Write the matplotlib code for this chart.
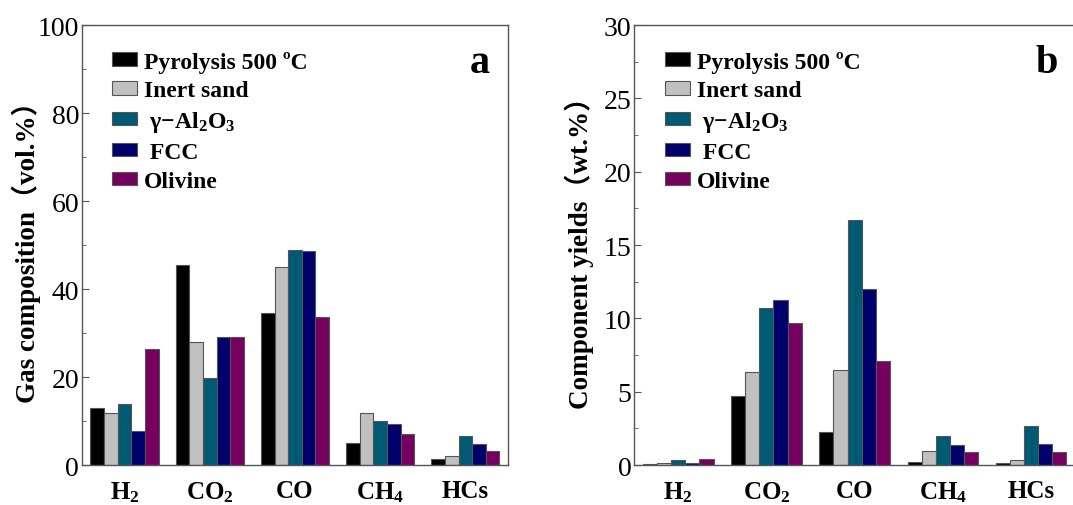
import matplotlib
matplotlib.use('Agg')
import matplotlib.pyplot as plt
from matplotlib.transforms import ScaledTranslation
import numpy as np

plt.rcParams['font.family'] = ['Liberation Serif', 'Noto Sans CJK SC']
plt.rcParams['mathtext.fontset'] = 'custom'
plt.rcParams['mathtext.rm'] = 'Liberation Serif:bold'
plt.rcParams['mathtext.it'] = 'Liberation Serif:italic:bold'
plt.rcParams['mathtext.bf'] = 'Liberation Serif:bold'

# ── data ──────────────────────────────────────────────────────────────────────
gases = ['H$_2$', 'CO$_2$', 'CO', 'CH$_4$', 'HCs']
series = ['Pyrolysis 500 ºC', 'Inert sand', ' γ−Al$_2$O$_3$', ' FCC', 'Olivine']
colors = ['#000000', '#C0C0C0', '#005A74', '#00006C', '#760060']

# gas composition, vol.%
comp_pyro = [13.0, 45.5, 34.5, 5.1, 1.4]
comp_sand = [11.8, 27.9, 45.0, 11.8, 2.1]
comp_al2o3 = [13.9, 19.8, 48.9, 10.1, 6.5]
comp_fcc = [7.7, 29.0, 48.6, 9.3, 4.7]
comp_olivine = [26.4, 29.2, 33.6, 7.0, 3.3]

# component yields, wt.%
yld_pyro = [0.07, 4.69, 2.24, 0.20, 0.14]
yld_sand = [0.16, 6.35, 6.50, 0.98, 0.36]
yld_al2o3 = [0.34, 10.7, 16.7, 2.00, 2.68]
yld_fcc = [0.16, 11.22, 11.97, 1.34, 1.41]
yld_olivine = [0.39, 9.68, 7.10, 0.86, 0.88]


def draw_panel(fig, ax, data, ymax, major, ylabel, tag, lpad):
    x = np.arange(1, len(gases) + 1)
    w = 0.16
    for i, (vals, lab, c) in enumerate(zip(data, series, colors)):
        ax.bar(x + (i - 2) * w, vals, width=w, color=c, edgecolor='#555555',
               linewidth=0.8, label=lab)
    ax.set_xlim(0.5, 5.5)
    ax.set_ylim(0, ymax)
    ax.set_yticks(np.arange(0, ymax + 0.01, major))
    ax.set_yticks(np.arange(major / 2, ymax, major), minor=True)
    ax.set_xticks(x)
    ax.set_xticklabels(gases, fontsize=18, fontweight='bold')
    # labels sit a little right of the group centres in the original
    shift = ScaledTranslation(5 / 100, 0, fig.dpi_scale_trans)
    for t in ax.get_xticklabels():
        t.set_transform(t.get_transform() + shift)
    ax.tick_params(axis='y', which='both', direction='in', labelsize=20, pad=2,
                   color='#555555')
    ax.tick_params(axis='y', which='major', length=5)
    ax.tick_params(axis='y', which='minor', length=3)
    ax.tick_params(axis='x', length=0, pad=10)
    for s in ax.spines.values():
        s.set_color('#555555')
        s.set_linewidth(1.0)
    ax.set_ylabel(ylabel, fontsize=19.5, fontweight='bold', labelpad=lpad)
    ax.legend(loc='upper left', bbox_to_anchor=(0.07, 0.942), frameon=False,
              prop={'size': 17, 'weight': 'bold'}, handlelength=1.05,
              handleheight=0.5, handletextpad=0.3, labelspacing=0.33,
              borderaxespad=0, borderpad=0)
    ax.text(0.935, 0.915, tag, transform=ax.transAxes, fontsize=29,
            fontweight='bold', ha='center', va='center')


fig = plt.figure(figsize=(10.73, 5.06), dpi=100)
ax1 = fig.add_axes([0.0764, 0.079, 0.397, 0.8696])
ax2 = fig.add_axes([0.591, 0.079, 0.411, 0.8696])

draw_panel(fig, ax1, [comp_pyro, comp_sand, comp_al2o3, comp_fcc, comp_olivine],
           100, 20, 'Gas composition（vol.%）', 'a', -2)
draw_panel(fig, ax2, [yld_pyro, yld_sand, yld_al2o3, yld_fcc, yld_olivine],
           30, 5, 'Component yields（wt.%）', 'b', 7)

fig.savefig('out.png', dpi=100)
